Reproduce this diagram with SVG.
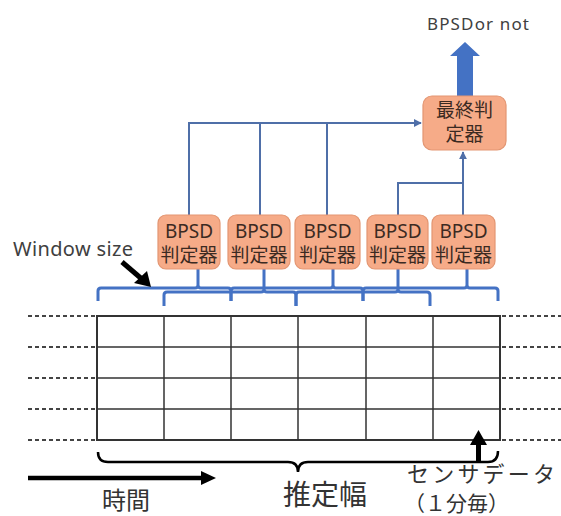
<svg xmlns="http://www.w3.org/2000/svg" width="561" height="516" viewBox="0 0 561 516">
<defs>
<style>
.box{fill:#f6ab88;stroke:#e39672;stroke-width:1.2}
.bt{font-family:"Noto Sans","Noto Sans CJK JP",sans-serif;fill:#3b2a22;text-anchor:middle}
.b1{font-size:19px}
.b2{font-size:19px}
.conn{fill:none;stroke:#4f6fa8;stroke-width:2}
.brace{fill:none;stroke:#4472c4;stroke-width:3;stroke-linejoin:round}
.grid{stroke:#333;stroke-width:1.5;fill:none}
.dash{stroke:#444;stroke-width:1.8;stroke-dasharray:4 3}
.lbl{font-family:"Noto Sans CJK JP",sans-serif;fill:#333}
</style>
<marker id="ah" viewBox="0 0 10 10" refX="9" refY="5" markerWidth="4" markerHeight="4" orient="auto">
<path d="M0,0 L10,5 L0,10 z" fill="#4f6fa8"/>
</marker>
</defs>

<g id="grid">
<rect class="grid" x="97" y="316" width="403" height="124" style="stroke-width:2"/>
<path class="grid" d="M164,316V440 M231,316V440 M298,316V440 M366,316V440 M433,316V440 M97,347H500 M97,378H500 M97,409H500"/>
<path class="dash" d="M28,316H95 M28,347H95 M28,378H95 M28,409H95 M28,440H95 M502,316H561 M502,347H561 M502,378H561 M502,409H561 M502,440H561"/>
</g>

<g id="connectors">
<path class="conn" d="M189,215V123H421" marker-end="url(#ah)"/>
<path class="conn" d="M260,215V123 M327,215V123"/>
<path class="conn" d="M398,215V183H463"/>
<path class="conn" d="M463,215V152" marker-end="url(#ah)"/>
<path fill="#4472c4" d="M457,96V56H450L465,42L480,56H473V96Z"/>
</g>

<g id="braces">
<path class="brace" d="M98,301V291Q98,288 101,288H195Q198,288 198,285V269 M198,285Q198,288 201,288H228Q231,288 231,291V301"/>
<path class="brace" d="M164,306V295Q164,292 167,292H261Q264,292 264,289V269 M264,289Q264,292 267,292H293Q296,292 296,295V306"/>
<path class="brace" d="M231,301V291Q231,288 234,288H330Q333,288 333,285V269 M333,285Q333,288 336,288H360Q363,288 363,291V301"/>
<path class="brace" d="M296,306V295Q296,292 299,292H395Q398,292 398,289V269 M398,289Q398,292 401,292H427Q430,292 430,295V306"/>
<path class="brace" d="M363,301V291Q363,288 366,288H464Q467,288 467,285V269 M467,285Q467,288 470,288H495Q498,288 498,291V301"/>
</g>

<g id="n1"><rect class="box" x="158" y="215" width="62" height="54" rx="8"/><text class="bt b1" x="189" y="238">BPSD</text><text class="bt b2" x="189" y="262">判定器</text></g>
<g id="n2"><rect class="box" x="228" y="215" width="62" height="54" rx="8"/><text class="bt b1" x="259" y="238">BPSD</text><text class="bt b2" x="259" y="262">判定器</text></g>
<g id="n3"><rect class="box" x="295" y="215" width="65" height="54" rx="8"/><text class="bt b1" x="327.5" y="238">BPSD</text><text class="bt b2" x="327.5" y="262">判定器</text></g>
<g id="n4"><rect class="box" x="367" y="215" width="61" height="54" rx="8"/><text class="bt b1" x="397.5" y="238">BPSD</text><text class="bt b2" x="397.5" y="262">判定器</text></g>
<g id="n5"><rect class="box" x="432" y="215" width="63" height="54" rx="8"/><text class="bt b1" x="463.5" y="238">BPSD</text><text class="bt b2" x="463.5" y="262">判定器</text></g>
<g id="final"><rect class="box" x="423" y="96" width="83" height="54" rx="9"/><text class="bt" x="464.5" y="117" font-size="19">最終判</text><text class="bt" x="464.5" y="141" font-size="19">定器</text></g>

<g id="labels">
<text x="427" y="30" font-family="Noto Sans, sans-serif" font-size="17" fill="#404040" textLength="102">BPSDor not</text>
<text x="13" y="256" font-family="Noto Sans, sans-serif" font-size="20" fill="#404040" textLength="120">Window size</text>
<path d="M122,262L143,280" stroke="#000" stroke-width="5"/>
<path d="M151,287L134,283L147,271Z" fill="#000"/>
<path fill="none" stroke="#000" stroke-width="2.5" d="M98,452Q98,462 108,462H288Q298,462 298,472Q298,462 308,462H488Q498,462 498,451"/>
<path d="M28,478H204" stroke="#000" stroke-width="4.5"/>
<path d="M201,471L216,478L201,485Z" fill="#000"/>
<path d="M478.5,461V443" stroke="#000" stroke-width="5"/>
<path d="M470,445L478.5,430L487,445Z" fill="#000"/>
<text class="lbl" x="102" y="509" font-size="24">時間</text>
<text class="lbl" x="283" y="505" font-size="28">推定幅</text>
<text class="lbl" x="407" y="482" font-size="22" textLength="148">センサデータ</text>
<text class="lbl" x="404" y="511" font-size="21">（１分毎）</text>
</g>
</svg>
